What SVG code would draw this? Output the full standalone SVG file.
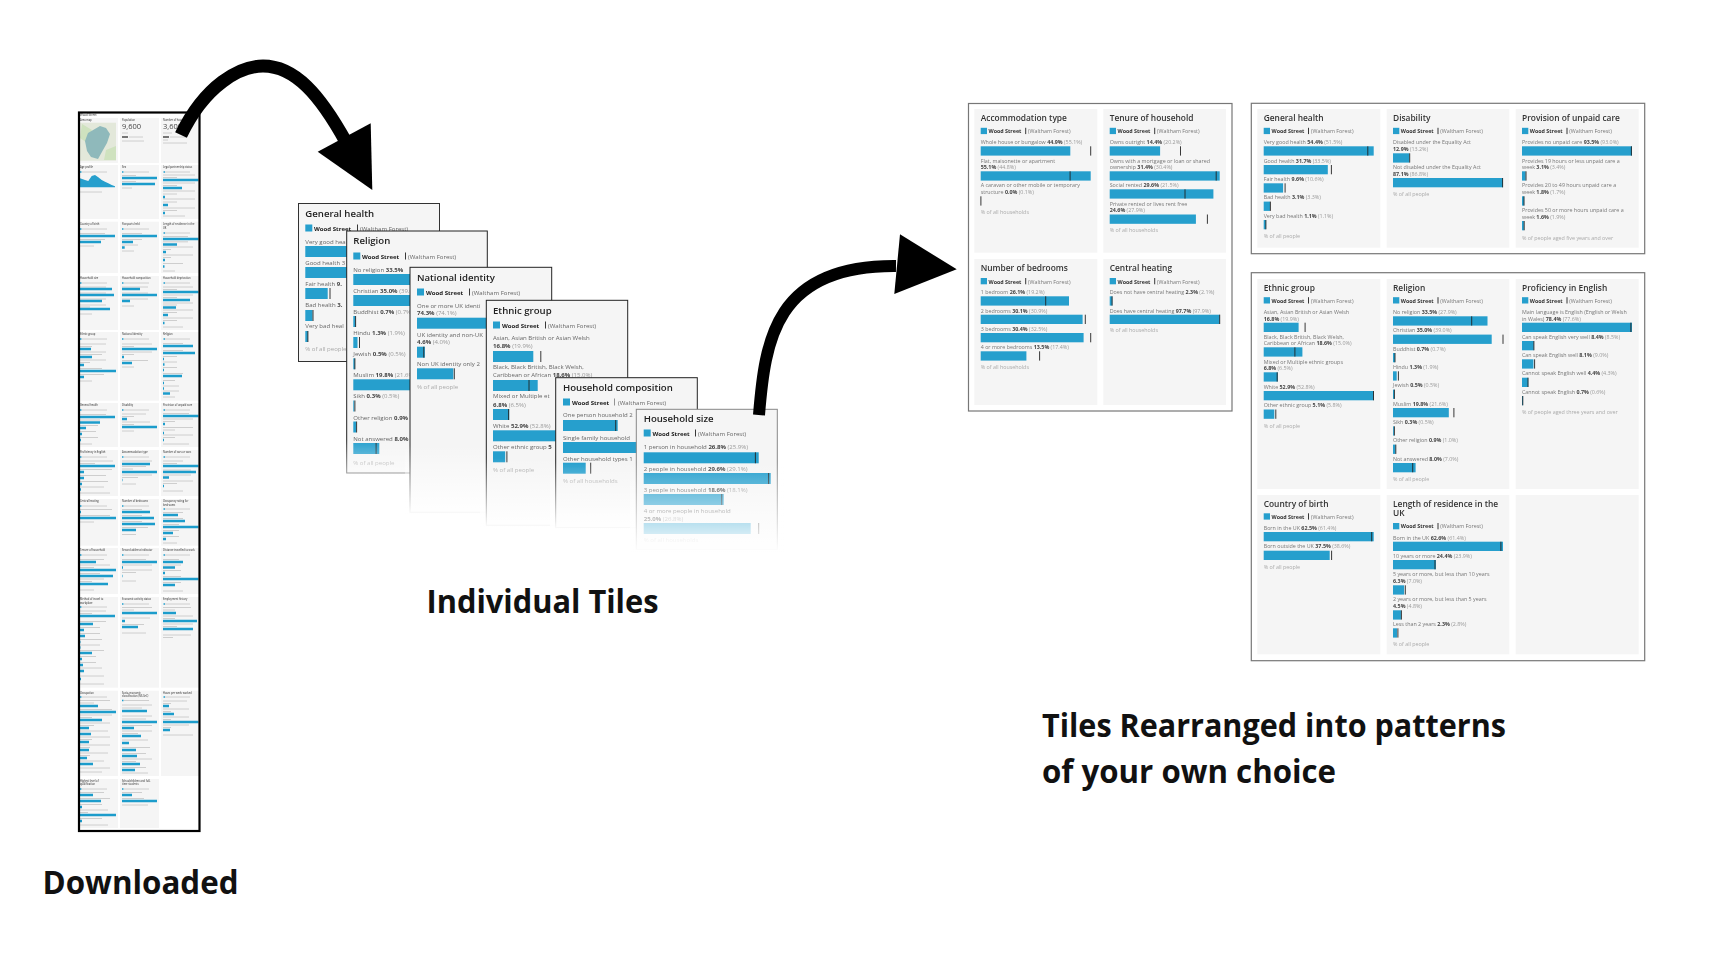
<svg xmlns="http://www.w3.org/2000/svg" width="1715" height="978" viewBox="0 0 1715 978">
<style>
text{font-family:"Open Sans","Noto Sans","Liberation Sans",sans-serif}
.tile{fill:#f5f5f5}
.bar{fill:#259fcd}
.m{stroke:#222;stroke-width:.9;fill:none}
.h{font-size:8.4px;font-weight:600;fill:#333}
.l{font-size:5.35px;fill:#777}
.k{font-size:5.35px;font-weight:700;fill:#333}
.v{font-weight:700;fill:#444}
.p{fill:#999}
.f{font-size:5.35px;fill:#aaa}
.frame{fill:none;stroke:#777;stroke-width:1.2}
.s .h{font-size:9.6px;fill:#222}
.s .l,.s .f{font-size:6.05px}
.s .k{font-size:6.05px;fill:#222}
.s .l{fill:#666}
.edge{fill:#f5f5f5;stroke:#222;stroke-width:1}
.mh{font-size:2.5px;font-weight:600;fill:#555}
.g{stroke:#c4c4c4;stroke-width:.8;fill:none}
.mb{stroke:#1e9ccb;stroke-width:2.6;fill:none}
.big{font-size:32.500px;font-weight:700;fill:#111}
.arrow{fill:none;stroke:#000}
</style>
<defs>
<filter id="soft" x="-5%" y="-5%" width="110%" height="110%"><feGaussianBlur stdDeviation=".38"/></filter>
<filter id="mini" x="-5%" y="-5%" width="110%" height="110%"><feGaussianBlur stdDeviation=".6"/></filter>
<linearGradient id="fade" x1="0" y1="0" x2="0" y2="1"><stop offset="0" stop-color="#fff" stop-opacity="0"/><stop offset="1" stop-color="#fff"/></linearGradient>
<linearGradient id="fade2" x1="0" y1="0" x2="0" y2="1"><stop offset="0" stop-color="#fff" stop-opacity="0"/><stop offset="1" stop-color="#fff" stop-opacity=".6"/></linearGradient>
</defs>
<rect width="1715" height="978" fill="#fff"/>

<g id="downloaded" filter="url(#mini)">
<text class="mh" x="80" y="115.500" style="font-size:2.8px">Wood Street</text>
<g id="d-area"><rect class="tile" x="80" y="118" width="38" height="45"/><text class="mh" x="80" y="121">Area map</text><rect x="80" y="122.700" width="36" height="38" fill="#e3e8da"/><path d="M82 124l10 6-6 12-6-4zM106 150l10-4v14h-12z" fill="#cfe2bf"/><path d="M88 133l12-7 6 2 4 6-3 9-4 7-5 9-7-2-4-6-2-10z" fill="#8fb9bb"/></g>
<g id="d-pop"><rect class="tile" x="120" y="118" width="39" height="45"/><text class="mh" x="122" y="121">Population</text><text x="122" y="129" style="font-size:7.5px" fill="#444">9,600</text><path class="g" d="M122 133h6M129 137h14M122 141h22"/><path d="M122 137h6" stroke="#555" stroke-width="1.6"/></g>
<g id="d-hh"><rect class="tile" x="161" y="118" width="38" height="45"/><text class="mh" x="163" y="121">Number of households</text><text x="163" y="129" style="font-size:7.5px" fill="#444">3,600</text><path class="g" d="M163 133h9M170 137h16M163 140h5M163 143h24"/><path d="M163 137h6" stroke="#555" stroke-width="1.6"/></g>

<g id="d-age"><rect class="tile" x="80" y="165" width="38" height="54"/><text class="mh" x="80" y="168">Age profile</text><path class="g" d="M82 172h25M80 192h22"/><path d="M80 187.300V178.300L85 180 88.300 181 91.700 176 95 175 98.300 177.300 101.700 180 105 181.700 108.300 183.300 111.700 185 115 186.300V187.300z" fill="#259fcd"/></g>
<g id="d-sex"><rect class="tile" x="120" y="165" width="39" height="54"/><text class="mh" x="122" y="168">Sex</text><path class="g" d="M124 172h25M122 175.500h14M122 181.500h14M122 188h10"/><path class="mb" d="M122 178h35M122 184h33"/></g>
<g id="d-legal"><rect class="tile" x="161" y="165" width="38" height="54"/><text class="mh" x="163" y="168">Legal partnership status</text><path class="g" d="M165 172h25M163 175h32M163 177.500h14M163 183h32M163 185.500h14M163 191h32M163 194h14M163 199h32M163 202h14M163 208h32M163 210.500h14M163 216h22"/><path class="mb" d="M163 180h35.500M163 188h19M163 197h2M163 205h5M163 213h2"/></g>

<g id="d-cob"><rect class="tile" x="80" y="221.700" width="38" height="51.300"/><text class="mh" x="80" y="225">Country of birth</text><path class="g" d="M82 229h25M80 233.500h25M80 239.500h25M80 246h14"/><path class="mb" d="M80 236h35M80 242h21"/></g>
<g id="d-pass"><rect class="tile" x="120" y="221.700" width="39" height="51.300"/><text class="mh" x="122" y="225">Passports held</text><path class="g" d="M124 229h25M122 233.500h20M122 239.500h20M122 245h16M122 251h12"/><path class="mb" d="M122 236h35M122 242h11M122 247.500h2.700"/></g>
<g id="d-lor"><rect class="tile" x="161" y="221.700" width="38" height="51.300"/><text class="mh" x="163" y="225">Length of residence in the</text><text class="mh" x="163" y="228.500">UK</text><path class="g" d="M165 233h25M163 236.500h25M163 241.800h25M163 247h30M163 249.500h8M163 255h30M163 257.500h8M163 263.500h20M163 271h12"/><path class="mb" d="M163 239h35.500M163 244.500h14M163 252h3M163 260h2M163 266.500h1.500"/></g>

<g id="d-size"><rect class="tile" x="80" y="276" width="38" height="54"/><text class="mh" x="80" y="279">Household size</text><path class="g" d="M82 283h25M80 287h26M80 293h26M80 299h26M80 305h26M80 307h10M80 314h12"/><path class="mb" d="M80 289h32M80 295h34M80 301h22M80 309h30"/></g>
<g id="d-comp"><rect class="tile" x="120" y="276" width="39" height="54"/><text class="mh" x="122" y="279">Household composition</text><path class="g" d="M124 283h25M122 287h26M122 293h26M122 299h26M122 306h12"/><path class="mb" d="M122 289h18M122 295h35M122 301h8"/></g>
<g id="d-dep"><rect class="tile" x="161" y="276" width="38" height="54"/><text class="mh" x="163" y="279">Household deprivation</text><path class="g" d="M165 283h25M163 287h30M163 289.500h14M163 295h30M163 297.500h14M163 303h30M163 305h14M163 310h30M163 312.500h14M163 318h30M163 320.500h14M163 327h20"/><path class="mb" d="M163 292h35.500M163 300h27M163 307.500h13M163 315h5M163 323h1.500"/></g>

<g id="d-eth"><rect class="tile" x="80" y="332" width="38" height="68.700"/><text class="mh" x="80" y="335">Ethnic group</text><path class="g" d="M82 339h25M80 344h26M80 346.500h12M80 352h26M80 354.500h22M80 360h26M80 362.500h10M80 368.500h22M80 374.500h24M80 381h12"/><path class="mb" d="M80 349h11M80 357h12M80 365h4M80 371h36M80 377h4"/></g>
<g id="d-nat"><rect class="tile" x="120" y="332" width="39" height="68.700"/><text class="mh" x="122" y="335">National identity</text><path class="g" d="M124 339h25M122 344h30M122 346.500h12M122 352h30M122 354.500h12M122 360.500h26M122 367h12"/><path class="mb" d="M122 349h35M122 357h2M122 363h10"/></g>
<g id="d-rel"><rect class="tile" x="161" y="332" width="38" height="68.700"/><text class="mh" x="163" y="335">Religion</text><path class="g" d="M165 339h25M163 343.500h20M163 350.500h20M163 356.500h14M163 362h14M163 367.500h14M163 373.500h20M163 380.500h12M163 386h16M163 391h16M163 397h12"/><path class="mb" d="M163 346h30M163 353h32M163 359h1M163 364.500h1.500M163 370h1M163 376h19M163 383h1M163 388.500h1M163 393.500h7"/></g>

<g id="d-gen"><rect class="tile" x="80" y="403" width="38" height="44"/><text class="mh" x="80" y="406">General health</text><path class="g" d="M82 410h25M80 414.500h26M80 420h20M80 425.500h18M80 431.500h16M80 437.500h18M80 444h12"/><path class="mb" d="M80 417h35M80 422.500h20M80 428h6M80 434h2M80 440h1"/></g>
<g id="d-dis"><rect class="tile" x="120" y="403" width="39" height="44"/><text class="mh" x="122" y="406">Disability</text><path class="g" d="M124 410h25M122 414h24M122 416.500h12M122 422h28M122 424.500h12M122 431h12"/><path class="mb" d="M122 419h5M122 427h35"/></g>
<g id="d-care"><rect class="tile" x="161" y="403" width="38" height="44"/><text class="mh" x="163" y="406">Provision of unpaid care</text><path class="g" d="M165 410h25M163 413.500h26M163 419h30M163 421.500h12M163 427.500h30M163 430h12M163 435h30M163 437.500h12M163 444h26"/><path class="mb" d="M163 416h35.500M163 424h2M163 433h1M163 440h1"/></g>

<g id="d-eng"><rect class="tile" x="80" y="450" width="38" height="46"/><text class="mh" x="80" y="453">Proficiency in English</text><path class="g" d="M82 457h25M80 461h33M80 463.500h15M80 469.500h32M80 475.500h26M80 481.500h28M80 487h24M80 493h30"/><path class="mb" d="M80 466h35M80 472h4M80 478h4M80 484h2M80 489.500h1"/></g>
<g id="d-acc"><rect class="tile" x="120" y="450" width="39" height="46"/><text class="mh" x="122" y="453">Accommodation type</text><path class="g" d="M124 457h25M122 461h30M122 466.500h24M122 469h11M122 475h30M122 477.500h16M122 484h14"/><path class="mb" d="M122 464h28M122 472h35M122 480h.5"/></g>
<g id="d-cars"><rect class="tile" x="161" y="450" width="38" height="46"/><text class="mh" x="163" y="453">Number of cars or vans</text><path class="g" d="M165 457h25M163 461h20M163 463.500h14M163 470h28M163 475h28M163 481h30M163 483.500h14M163 491h20"/><path class="mb" d="M163 466h35.500M163 472h33M163 477.500h6M163 486h1"/></g>

<g id="d-heat"><rect class="tile" x="80" y="499" width="38" height="46.700"/><text class="mh" x="80" y="502">Central heating</text><path class="g" d="M82 506h25M80 509.500h32M80 515.500h30M80 522h14"/><path class="mb" d="M80 512h1M80 518h36"/></g>
<g id="d-bed"><rect class="tile" x="120" y="499" width="39" height="46.700"/><text class="mh" x="122" y="502">Number of bedrooms</text><path class="g" d="M124 506h25M122 509.500h20M122 515.500h20M122 521.500h20M122 527.500h26M122 534.500h14"/><path class="mb" d="M122 512h28M122 518h32M122 524h33M122 530h14"/></g>
<g id="d-occ"><rect class="tile" x="161" y="499" width="38" height="46.700"/><text class="mh" x="163" y="502">Occupancy rating for</text><text class="mh" x="163" y="505.500">bedrooms</text><path class="g" d="M165 509h25M163 512.500h20M163 518.500h20M163 524.500h16M163 530.500h16M163 536.500h16M163 543h14"/><path class="mb" d="M163 515h15M163 521h22M163 527h35.500M163 533h10M163 539h3"/></g>

<g id="d-ten"><rect class="tile" x="80" y="548" width="38" height="46"/><text class="mh" x="80" y="551">Tenure of household</text><path class="g" d="M82 555h25M80 559.500h24M80 565h30M80 567.500h14M80 573.500h20M80 579h24M80 581.500h12M80 590h14"/><path class="mb" d="M80 562h16M80 570h36M80 576h33M80 584h28"/></g>
<g id="d-sec"><rect class="tile" x="120" y="548" width="39" height="46"/><text class="mh" x="122" y="551">Second address indicator</text><path class="g" d="M124 555h25M122 559.500h24M122 565h30M122 570h30M122 572.500h14M122 581h14"/><path class="mb" d="M122 562h35M122 567.500h1M122 576h.5"/></g>
<g id="d-dist"><rect class="tile" x="161" y="548" width="38" height="46"/><text class="mh" x="163" y="551">Distance travelled to work</text><path class="g" d="M165 555h25M163 559.500h16M163 565h18M163 570.500h18M163 576.500h18M163 582.500h18M163 591h20"/><path class="mb" d="M163 562h20M163 567.500h12M163 573h2M163 579h35.500M163 585h12"/></g>

<g id="d-meth"><rect class="tile" x="80" y="597" width="38" height="90.700"/><text class="mh" x="80" y="600">Method of travel to</text><text class="mh" x="80" y="603.500">workplace</text><path class="g" d="M82 607h25M80 611h26M80 613.500h12M80 621.500h26M80 627.500h20M80 633.500h20M80 639.500h22M80 645h20M80 650.500h24M80 656.500h16M80 662.500h16M80 668h22M80 676h24M80 684h24"/><path class="mb" d="M80 616h35M80 624h13M80 630h4M80 636h5M80 642h.5M80 647.500h.5M80 653h12M80 659h2M80 665h3M80 671h4M80 679h1"/></g>
<g id="d-econ"><rect class="tile" x="120" y="597" width="39" height="90.700"/><text class="mh" x="122" y="600">Economic activity status</text><path class="g" d="M124 604h25M122 607.500h30M122 610h12M122 618h28M122 624.500h22M122 633h24"/><path class="mb" d="M122 613h35M122 621h3M122 627h16"/></g>
<g id="d-emp"><rect class="tile" x="161" y="597" width="38" height="90.700"/><text class="mh" x="163" y="600">Employment history</text><path class="g" d="M165 604h25M163 607.500h28M163 610h12M163 616h30M163 618.500h12M163 624h30M163 626.500h14M163 635h28M163 637.500h10"/><path class="mb" d="M163 613h13M163 621h34M163 629h30"/></g>

<g id="d-occu"><rect class="tile" x="80" y="690.700" width="38" height="85.300"/><text class="mh" x="80" y="693.500">Occupation</text><path class="g" d="M82 697h25M80 700.500h30M80 703h14M80 709.500h32M80 715h32M80 717.500h12M80 723h30M80 725.500h14M80 731h28M80 737h30M80 739.500h12M80 745h30M80 747.500h10M80 753h28M80 755.500h10M80 761h24M80 768h30M80 772h22"/><path class="mb" d="M80 706h18M80 712h36M80 720h22M80 728h9M80 734h11M80 742h9M80 750h9M80 758h7M80 764h13"/></g>
<g id="d-nssec"><rect class="tile" x="120" y="690.700" width="39" height="85.300"/><text class="mh" x="122" y="693.500">Socio-economic</text><text class="mh" x="122" y="697">classification (NS-SeC)</text><path class="g" d="M124 700.500h25M122 705h30M122 708h20M122 716h30M122 719h24M122 725.500h30M122 731h30M122 733.500h16M122 740h26M122 747.500h28M122 753.500h24M122 759h30M122 761.500h14M122 767.500h24M122 773h26"/><path class="mb" d="M122 711h25M122 722h35M122 728h12M122 736h19M122 743h7M122 750h14M122 756h15M122 764h18M122 770h13"/></g>
<g id="d-hours"><rect class="tile" x="161" y="690.700" width="38" height="85.300"/><text class="mh" x="163" y="693.500">Hours per week worked</text><path class="g" d="M165 697h25M163 701h24M163 703.500h8M163 709h26M163 711.500h8M163 717h26M163 719.500h8M163 725h26M163 727.500h8M163 735h30"/><path class="mb" d="M163 706h6M163 714h11M163 722h35.500M163 730h7"/></g>

<g id="d-qual"><rect class="tile" x="80" y="779" width="38" height="49"/><text class="mh" x="80" y="782">Highest level of</text><text class="mh" x="80" y="785.300">qualification</text><path class="g" d="M82 789h25M80 792.500h24M80 798.500h30M80 804.500h22M80 810h28M80 812.500h8M80 818.500h22M80 825h28"/><path class="mb" d="M80 795h13M80 801h21M80 807h2M80 815h36M80 821h2"/></g>
<g id="d-sch"><rect class="tile" x="120" y="779" width="39" height="49"/><text class="mh" x="122" y="782">Schoolchildren and full-</text><text class="mh" x="122" y="785.300">time students</text><path class="g" d="M124 789h25M122 792.500h20M122 798.500h22M122 805h26"/><path class="mb" d="M122 795h10M122 801h35"/></g>
<path id="d-swatches" stroke="#1e9ccb" stroke-width="1.6" fill="none" d="M122 172h1.500M163.500 172h1.500M80 229h1.500M122 229h1.500M163.500 233h1.500M80 283h1.500M122 283h1.500M163.500 283h1.500M80 339h1.500M122 339h1.500M163.500 339h1.500M80 410h1.500M122 410h1.500M163.500 410h1.500M80 457h1.500M122 457h1.500M163.500 457h1.500M80 506h1.500M122 506h1.500M163.500 509h1.500M80 555h1.500M122 555h1.500M163.500 555h1.500M80 607h1.500M122 604h1.500M163.500 604h1.500M80 697h1.500M122 700.500h1.500M163.500 697h1.500M80 789h1.500M122 789h1.500M80 172h1.500"/>
</g>
<rect id="d-frame" x="79" y="112.500" width="120.500" height="718.500" fill="none" stroke="#000" stroke-width="2.200"/>

<g class="s" filter="url(#soft)">
<g id="tile-general-health">
<rect class="edge" x="298.500" y="203.500" width="141" height="158" style="stroke:#333"/>
<text class="h" x="305.300" y="217">General health</text>
<rect class="bar" x="305.300" y="224.500" width="7" height="7"/><text class="k" x="314" y="231">Wood Street</text><path class="m" d="M357.500 224.500v6.500"/><text class="l" x="360" y="231">(Waltham Forest)</text>
<text class="l" x="305.300" y="244">Very good hea</text><rect class="bar" x="305.300" y="246" width="127" height="11"/>
<text class="l" x="305.300" y="265">Good health 3</text><rect class="bar" x="305.300" y="267" width="74" height="11"/>
<text class="l" x="305.300" y="286">Fair health <tspan class="v">9.</tspan></text><rect class="bar" x="305.300" y="288" width="22.400" height="11"/>
<text class="l" x="305.300" y="307">Bad health <tspan class="v">3.</tspan></text><rect class="bar" x="305.300" y="310" width="7.200" height="11"/>
<text class="l" x="305.300" y="328">Very bad heal</text><rect class="bar" x="305.300" y="331" width="2.600" height="11"/>
<path class="m" d="M425.300 246v11M383.300 267v11M330 288v11M313 310v11M307.900 331v11"/>
<text class="f" x="305.300" y="351">% of all people</text>
</g>
<g id="tile-religion">
<rect class="edge" x="346.700" y="231" width="140.600" height="242"/>
<text class="h" x="353.300" y="244.300">Religion</text>
<rect class="bar" x="353.300" y="252.500" width="7" height="7"/><text class="k" x="362" y="259">Wood Street</text><path class="m" d="M405.500 252.500v7"/><text class="l" x="408" y="259">(Waltham Forest)</text>
<text class="l" x="353.300" y="271.700">No religion <tspan class="v">33.5%</tspan></text><rect class="bar" x="353.300" y="274" width="109" height="11"/>
<text class="l" x="353.300" y="292.700">Christian <tspan class="v">35.0%</tspan> <tspan class="p">(39.0%)</tspan></text><rect class="bar" x="353.300" y="295" width="114" height="11"/>
<text class="l" x="353.300" y="313.700">Buddhist <tspan class="v">0.7%</tspan> <tspan class="p">(0.7%)</tspan></text><rect class="bar" x="353.300" y="316" width="2.300" height="11"/>
<text class="l" x="353.300" y="335">Hindu <tspan class="v">1.3%</tspan> <tspan class="p">(1.9%)</tspan></text><rect class="bar" x="353.300" y="337" width="4.200" height="11"/>
<text class="l" x="353.300" y="356">Jewish <tspan class="v">0.5%</tspan> <tspan class="p">(0.5%)</tspan></text><rect class="bar" x="353.300" y="358.300" width="1.600" height="11"/>
<text class="l" x="353.300" y="377">Muslim <tspan class="v">19.8%</tspan> <tspan class="p">(21.6%)</tspan></text><rect class="bar" x="353.300" y="379.300" width="64.500" height="11"/>
<text class="l" x="353.300" y="398">Sikh <tspan class="v">0.3%</tspan> <tspan class="p">(0.5%)</tspan></text><rect class="bar" x="353.300" y="400.500" width="1" height="11"/>
<text class="l" x="353.300" y="419.500">Other religion <tspan class="v">0.9%</tspan></text><rect class="bar" x="353.300" y="421.500" width="2.900" height="11"/>
<text class="l" x="353.300" y="440.500">Not answered <tspan class="v">8.0%</tspan></text><rect class="bar" x="353.300" y="443" width="26" height="11"/>
<path class="m" d="M444.200 274v11M480.300 295v11M355.600 316v11M359.500 337v11M354.900 358.300v11M423.600 379.300v11M354.900 400.500v11M356.600 421.500v11M376.100 443v11"/>
<text class="f" x="353.300" y="465">% of all people</text>
<rect x="340" y="440" width="150" height="36" fill="url(#fade2)"/>
</g>
<g id="tile-national-identity">
<rect class="edge" x="410" y="267.300" width="141.700" height="245"/>
<text class="h" x="417" y="280.700">National identity</text>
<rect class="bar" x="417" y="288.500" width="7" height="7"/><text class="k" x="426" y="295">Wood Street</text><path class="m" d="M469.500 288.500v7"/><text class="l" x="472" y="295">(Waltham Forest)</text>
<text class="l" x="417" y="307.700">One or more UK identi</text><text class="l" x="417" y="315.300"><tspan class="v">74.3%</tspan> <tspan class="p">(74.1%)</tspan></text><rect class="bar" x="417" y="317.700" width="127" height="11"/>
<text class="l" x="417" y="336.700">UK identity and non-UK</text><text class="l" x="417" y="344.300"><tspan class="v">4.6%</tspan> <tspan class="p">(4.0%)</tspan></text><rect class="bar" x="417" y="346.700" width="7.900" height="11"/>
<text class="l" x="417" y="365.700">Non UK identity only 2</text><rect class="bar" x="417" y="368.300" width="36.300" height="11"/>
<path class="m" d="M543.600 317.700v11M423.800 346.700v11M454.300 368.300v11"/>
<text class="f" x="417" y="388.700">% of all people</text>
<rect x="405" y="445" width="85" height="70" fill="url(#fade)"/>
</g>
<g id="tile-ethnic-group">
<rect class="edge" x="486.300" y="300.300" width="141.400" height="225"/>
<text class="h" x="493" y="314">Ethnic group</text>
<rect class="bar" x="493" y="321.500" width="7" height="7"/><text class="k" x="502" y="328">Wood Street</text><path class="m" d="M545.500 321.500v7"/><text class="l" x="548" y="328">(Waltham Forest)</text>
<text class="l" x="493" y="340.300">Asian, Asian British or Asian Welsh</text><text class="l" x="493" y="348.300"><tspan class="v">16.8%</tspan> <tspan class="p">(19.9%)</tspan></text><rect class="bar" x="493" y="351" width="40.300" height="11"/>
<text class="l" x="493" y="369.300">Black, Black British, Black Welsh,</text><text class="l" x="493" y="377">Caribbean or African <tspan class="v">18.6%</tspan> <tspan class="p">(15.0%)</tspan></text><rect class="bar" x="493" y="380" width="44.700" height="11"/>
<text class="l" x="493" y="398.300">Mixed or Multiple et</text><text class="l" x="493" y="406.700"><tspan class="v">6.8%</tspan> <tspan class="p">(6.5%)</tspan></text><rect class="bar" x="493" y="409" width="16.300" height="11"/>
<text class="l" x="493" y="427.700">White <tspan class="v">52.9%</tspan> <tspan class="p">(52.8%)</tspan></text><rect class="bar" x="493" y="430.300" width="127" height="11"/>
<text class="l" x="493" y="449">Other ethnic group <tspan class="v">5</tspan></text><rect class="bar" x="493" y="451.300" width="12.200" height="11"/>
<path class="m" d="M540.800 351v11M529 380v11M508.600 409v11M619.800 430.300v11M506.900 451.300v11"/>
<text class="f" x="493" y="472">% of all people</text>
<rect x="480" y="458" width="155" height="70" fill="url(#fade)"/>
</g>
<g id="tile-household-composition">
<rect class="edge" x="555.700" y="377.700" width="141.600" height="150"/>
<text class="h" x="563" y="390.700">Household composition</text>
<rect class="bar" x="563" y="398.500" width="7" height="7"/><text class="k" x="572" y="405">Wood Street</text><path class="m" d="M614.500 398.500v7" style="stroke:#888"/><text class="l" x="618" y="405">(Waltham Forest)</text>
<text class="l" x="563" y="417.300">One person household 2</text><rect class="bar" x="563" y="420" width="54.700" height="11"/>
<text class="l" x="563" y="439.700">Single family household</text><rect class="bar" x="563" y="442" width="127" height="11"/>
<text class="l" x="563" y="460.700">Other household types 1</text><rect class="bar" x="563" y="462.700" width="22.700" height="11"/>
<path class="m" d="M615.700 420v11M590.700 462.700v11"/>
<text class="f" x="563" y="483.300">% of all households</text>
<rect x="550" y="462" width="90" height="68" fill="url(#fade)"/>
</g>
<g id="tile-household-size">
<rect class="edge" x="636.300" y="409.300" width="141" height="140" style="stroke:#888"/>
<text class="h" x="643.700" y="422">Household size</text>
<rect class="bar" x="643.700" y="429.500" width="7" height="7"/><text class="k" x="652.500" y="436">Wood Street</text><path class="m" d="M695.500 429.500v7"/><text class="l" x="698" y="436">(Waltham Forest)</text>
<text class="l" x="643.700" y="449.300">1 person in household <tspan class="v">26.8%</tspan> <tspan class="p">(25.9%)</tspan></text><rect class="bar" x="643.700" y="452.300" width="115" height="11"/>
<text class="l" x="643.700" y="471">2 people in household <tspan class="v">29.6%</tspan> <tspan class="p">(29.1%)</tspan></text><rect class="bar" x="643.700" y="473" width="127" height="11"/>
<text class="l" x="643.700" y="492">3 people in household <tspan class="v">18.6%</tspan> <tspan class="p">(18.1%)</tspan></text><rect class="bar" x="643.700" y="494" width="80" height="11"/>
<text class="l" x="643.700" y="513.300">4 or more people in household</text><text class="l" x="643.700" y="520.700"><tspan class="v">25.0%</tspan> <tspan class="p">(26.8%)</tspan></text><rect class="bar" x="643.700" y="523" width="107" height="11"/>
<path class="m" d="M755.400 452.300v11M768.600 473v11M721.700 494v11M758.700 523v11"/>
<text class="f" x="643.700" y="541.700">% of all households</text>
<rect x="630" y="462" width="155" height="90" fill="url(#fade)"/>
</g>
</g>

<g filter="url(#soft)">
<rect class="frame" x="968.500" y="103.500" width="263.500" height="307.500"/>
<g id="a-accommodation">
<rect class="tile" x="974.300" y="109" width="123" height="143.700"/>
<text class="h" x="980.700" y="120.700">Accommodation type</text>
<rect class="bar" x="980.700" y="127.800" width="6.300" height="6.300"/><text class="k" x="988.500" y="133.200">Wood Street</text><path class="m" d="M1025.700 127.800v6.300"/><text class="l" x="1028" y="133.200">(Waltham Forest)</text>
<text class="l" x="980.700" y="144.300">Whole house or bungalow <tspan class="v">44.9%</tspan> <tspan class="p">(55.1%)</tspan></text><rect class="bar" x="980.700" y="146.300" width="89.600" height="9.300"/>
<text class="l" x="980.700" y="162.700">Flat, maisonette or apartment</text><text class="l" x="980.700" y="169.300"><tspan class="v">55.1%</tspan> <tspan class="p">(44.8%)</tspan></text><rect class="bar" x="980.700" y="171.300" width="110" height="9.300"/>
<text class="l" x="980.700" y="187.300">A caravan or other mobile or temporary</text><text class="l" x="980.700" y="194">structure <tspan class="v">0.0%</tspan> <tspan class="p">(0.1%)</tspan></text>
<path class="m" d="M1090.700 146.300v9.300M1070.100 171.300v9.300M980.900 196.300v9.300"/>
<text class="f" x="980.700" y="214.300">% of all households</text>
</g>
<g id="a-tenure">
<rect class="tile" x="1103.300" y="109" width="122.700" height="143.700"/>
<text class="h" x="1109.700" y="120.700">Tenure of household</text>
<rect class="bar" x="1109.700" y="127.800" width="6.300" height="6.300"/><text class="k" x="1117.500" y="133.200">Wood Street</text><path class="m" d="M1154.700 127.800v6.300"/><text class="l" x="1157" y="133.200">(Waltham Forest)</text>
<text class="l" x="1109.700" y="144.300">Owns outright <tspan class="v">14.4%</tspan> <tspan class="p">(20.2%)</tspan></text><rect class="bar" x="1109.700" y="146.300" width="50.400" height="9.300"/>
<text class="l" x="1109.700" y="162.700">Owns with a mortgage or loan or shared</text><text class="l" x="1109.700" y="169.300">ownership <tspan class="v">31.4%</tspan> <tspan class="p">(30.4%)</tspan></text><rect class="bar" x="1109.700" y="171.300" width="110" height="9.300"/>
<text class="l" x="1109.700" y="187.300">Social rented <tspan class="v">29.6%</tspan> <tspan class="p">(21.5%)</tspan></text><rect class="bar" x="1109.700" y="189.300" width="103.700" height="9.300"/>
<text class="l" x="1109.700" y="205.700">Private rented or lives rent free</text><text class="l" x="1109.700" y="212.300"><tspan class="v">24.6%</tspan> <tspan class="p">(27.9%)</tspan></text><rect class="bar" x="1109.700" y="214.500" width="86.200" height="9.300"/>
<path class="m" d="M1180.500 146.300v9.300M1216.200 171.300v9.300M1185 189.300v9.300M1207.400 214.500v9.300"/>
<text class="f" x="1109.700" y="232">% of all households</text>
</g>
<g id="a-bedrooms">
<rect class="tile" x="974.300" y="259" width="123" height="146"/>
<text class="h" x="980.700" y="270.700">Number of bedrooms</text>
<rect class="bar" x="980.700" y="278" width="6.300" height="6.300"/><text class="k" x="988.500" y="283.500">Wood Street</text><path class="m" d="M1025.700 278v6.300"/><text class="l" x="1028" y="283.500">(Waltham Forest)</text>
<text class="l" x="980.700" y="294.300">1 bedroom <tspan class="v">26.1%</tspan> <tspan class="p">(19.2%)</tspan></text><rect class="bar" x="980.700" y="296.300" width="88.300" height="9.300"/>
<text class="l" x="980.700" y="312.700">2 bedrooms <tspan class="v">30.1%</tspan> <tspan class="p">(30.9%)</tspan></text><rect class="bar" x="980.700" y="314.700" width="101.900" height="9.300"/>
<text class="l" x="980.700" y="331">3 bedrooms <tspan class="v">30.4%</tspan> <tspan class="p">(32.5%)</tspan></text><rect class="bar" x="980.700" y="333" width="102.900" height="9.300"/>
<text class="l" x="980.700" y="349.300">4 or more bedrooms <tspan class="v">13.5%</tspan> <tspan class="p">(17.4%)</tspan></text><rect class="bar" x="980.700" y="351.300" width="45.700" height="9.300"/>
<path class="m" d="M1045.700 296.300v9.300M1085.300 314.700v9.300M1090.700 333v9.300M1039.600 351.300v9.300"/>
<text class="f" x="980.700" y="369.300">% of all households</text>
</g>
<g id="a-heating">
<rect class="tile" x="1103.300" y="259" width="122.700" height="146"/>
<text class="h" x="1109.700" y="270.700">Central heating</text>
<rect class="bar" x="1109.700" y="278" width="6.300" height="6.300"/><text class="k" x="1117.500" y="283.500">Wood Street</text><path class="m" d="M1154.700 278v6.300"/><text class="l" x="1157" y="283.500">(Waltham Forest)</text>
<text class="l" x="1109.700" y="294.300">Does not have central heating <tspan class="v">2.3%</tspan> <tspan class="p">(2.1%)</tspan></text><rect class="bar" x="1109.700" y="296.300" width="2.600" height="9.300"/>
<text class="l" x="1109.700" y="312.700">Does have central heating <tspan class="v">97.7%</tspan> <tspan class="p">(97.9%)</tspan></text><rect class="bar" x="1109.700" y="314.700" width="110" height="9.300"/>
<path class="m" d="M1112.100 296.300v9.300M1219.700 314.700v9.300"/>
<text class="f" x="1109.700" y="332.300">% of all households</text>
</g>

<rect class="frame" x="1251.300" y="103.300" width="393.400" height="150.400"/>
<g id="b-general-health">
<rect class="tile" x="1257.300" y="109" width="123" height="138.700"/>
<text class="h" x="1263.700" y="120.700">General health</text>
<rect class="bar" x="1263.700" y="127.800" width="6.300" height="6.300"/><text class="k" x="1271.500" y="133.200">Wood Street</text><path class="m" d="M1308.500 127.800v6.300"/><text class="l" x="1311" y="133.200">(Waltham Forest)</text>
<text class="l" x="1263.700" y="144.300">Very good health <tspan class="v">54.4%</tspan> <tspan class="p">(51.5%)</tspan></text><rect class="bar" x="1263.700" y="146.300" width="110" height="9.300"/>
<text class="l" x="1263.700" y="162.700">Good health <tspan class="v">31.7%</tspan> <tspan class="p">(33.5%)</tspan></text><rect class="bar" x="1263.700" y="165" width="64.100" height="9.300"/>
<text class="l" x="1263.700" y="181">Fair health <tspan class="v">9.6%</tspan> <tspan class="p">(10.6%)</tspan></text><rect class="bar" x="1263.700" y="183.300" width="19.400" height="9.300"/>
<text class="l" x="1263.700" y="199.300">Bad health <tspan class="v">3.1%</tspan> <tspan class="p">(3.3%)</tspan></text><rect class="bar" x="1263.700" y="201.600" width="6.300" height="9.300"/>
<text class="l" x="1263.700" y="217.700">Very bad health <tspan class="v">1.1%</tspan> <tspan class="p">(1.1%)</tspan></text><rect class="bar" x="1263.700" y="220" width="2.200" height="9.300"/>
<path class="m" d="M1367.800 146.300v9.300M1331.400 165v9.300M1285.100 183.300v9.300M1270.400 201.600v9.300M1265.900 220v9.300"/>
<text class="f" x="1263.700" y="237.700">% of all people</text>
</g>
<g id="b-disability">
<rect class="tile" x="1386.700" y="109" width="122.600" height="138.700"/>
<text class="h" x="1393" y="120.700">Disability</text>
<rect class="bar" x="1393" y="127.800" width="6.300" height="6.300"/><text class="k" x="1400.800" y="133.200">Wood Street</text><path class="m" d="M1438 127.800v6.300"/><text class="l" x="1440.300" y="133.200">(Waltham Forest)</text>
<text class="l" x="1393" y="144.300">Disabled under the Equality Act</text><text class="l" x="1393" y="151"><tspan class="v">12.9%</tspan> <tspan class="p">(13.2%)</tspan></text><rect class="bar" x="1393" y="153.300" width="16.300" height="9.300"/>
<text class="l" x="1393" y="169.300">Not disabled under the Equality Act</text><text class="l" x="1393" y="176"><tspan class="v">87.1%</tspan> <tspan class="p">(86.8%)</tspan></text><rect class="bar" x="1393" y="178" width="110" height="9.300"/>
<path class="m" d="M1409.700 153.300v9.300M1502.600 178v9.300"/>
<text class="f" x="1393" y="196">% of all people</text>
</g>
<g id="b-unpaid-care">
<rect class="tile" x="1515.700" y="109" width="123" height="138.700"/>
<text class="h" x="1522" y="120.700">Provision of unpaid care</text>
<rect class="bar" x="1522" y="127.800" width="6.300" height="6.300"/><text class="k" x="1529.800" y="133.200">Wood Street</text><path class="m" d="M1567 127.800v6.300"/><text class="l" x="1569.300" y="133.200">(Waltham Forest)</text>
<text class="l" x="1522" y="144.300">Provides no unpaid care <tspan class="v">93.5%</tspan> <tspan class="p">(93.0%)</tspan></text><rect class="bar" x="1522" y="146.300" width="110" height="9.300"/>
<text class="l" x="1522" y="162.700">Provides 19 hours or less unpaid care a</text><text class="l" x="1522" y="169.300">week <tspan class="v">3.1%</tspan> <tspan class="p">(3.4%)</tspan></text><rect class="bar" x="1522" y="171.300" width="3.600" height="9.300"/>
<text class="l" x="1522" y="187.300">Provides 20 to 49 hours unpaid care a</text><text class="l" x="1522" y="194">week <tspan class="v">1.8%</tspan> <tspan class="p">(1.7%)</tspan></text><rect class="bar" x="1522" y="196.300" width="2.100" height="9.300"/>
<text class="l" x="1522" y="212">Provides 50 or more hours unpaid care a</text><text class="l" x="1522" y="218.700">week <tspan class="v">1.6%</tspan> <tspan class="p">(1.9%)</tspan></text><rect class="bar" x="1522" y="221" width="1.900" height="9.300"/>
<path class="m" d="M1631.400 146.300v9.300M1526 171.300v9.300M1524 196.300v9.300M1524.200 221v9.300"/>
<text class="f" x="1522" y="240">% of people aged five years and over</text>
</g>

<rect class="frame" x="1251.300" y="272.700" width="393.400" height="388"/>
<g id="c-ethnic-group">
<rect class="tile" x="1257.300" y="279" width="123" height="210"/>
<text class="h" x="1263.700" y="290.700">Ethnic group</text>
<rect class="bar" x="1263.700" y="297.200" width="6.300" height="6.300"/><text class="k" x="1271.500" y="302.700">Wood Street</text><path class="m" d="M1308.500 297.200v6.300"/><text class="l" x="1311" y="302.700">(Waltham Forest)</text>
<text class="l" x="1263.700" y="314">Asian, Asian British or Asian Welsh</text><text class="l" x="1263.700" y="320.700"><tspan class="v">16.8%</tspan> <tspan class="p">(19.9%)</tspan></text><rect class="bar" x="1263.700" y="322.700" width="34.900" height="9.300"/>
<text class="l" x="1263.700" y="338.700">Black, Black British, Black Welsh,</text><text class="l" x="1263.700" y="345.300">Caribbean or African <tspan class="v">18.6%</tspan> <tspan class="p">(15.0%)</tspan></text><rect class="bar" x="1263.700" y="347.300" width="38.700" height="9.300"/>
<text class="l" x="1263.700" y="363.500">Mixed or Multiple ethnic groups</text><text class="l" x="1263.700" y="370"><tspan class="v">6.8%</tspan> <tspan class="p">(6.5%)</tspan></text><rect class="bar" x="1263.700" y="372.300" width="14.100" height="9.300"/>
<text class="l" x="1263.700" y="388.500">White <tspan class="v">52.9%</tspan> <tspan class="p">(52.8%)</tspan></text><rect class="bar" x="1263.700" y="391" width="110" height="9.300"/>
<text class="l" x="1263.700" y="407">Other ethnic group <tspan class="v">5.1%</tspan> <tspan class="p">(5.8%)</tspan></text><rect class="bar" x="1263.700" y="409.500" width="10.600" height="9.300"/>
<path class="m" d="M1305.100 322.700v9.300M1294.900 347.300v9.300M1277.200 372.300v9.300M1373.500 391v9.300M1275.800 409.500v9.300"/>
<text class="f" x="1263.700" y="427.700">% of all people</text>
</g>
<g id="c-religion">
<rect class="tile" x="1386.700" y="279" width="122.600" height="210"/>
<text class="h" x="1393" y="290.700">Religion</text>
<rect class="bar" x="1393" y="297.200" width="6.300" height="6.300"/><text class="k" x="1400.800" y="302.700">Wood Street</text><path class="m" d="M1438 297.200v6.300"/><text class="l" x="1440.300" y="302.700">(Waltham Forest)</text>
<text class="l" x="1393" y="314">No religion <tspan class="v">33.5%</tspan> <tspan class="p">(27.9%)</tspan></text><rect class="bar" x="1393" y="316.300" width="94.500" height="9.300"/>
<text class="l" x="1393" y="332.300">Christian <tspan class="v">35.0%</tspan> <tspan class="p">(39.0%)</tspan></text><rect class="bar" x="1393" y="334.600" width="98.700" height="9.300"/>
<text class="l" x="1393" y="350.700">Buddhist <tspan class="v">0.7%</tspan> <tspan class="p">(0.7%)</tspan></text><rect class="bar" x="1393" y="353" width="2" height="9.300"/>
<text class="l" x="1393" y="369">Hindu <tspan class="v">1.3%</tspan> <tspan class="p">(1.9%)</tspan></text><rect class="bar" x="1393" y="371.300" width="3.700" height="9.300"/>
<text class="l" x="1393" y="387.300">Jewish <tspan class="v">0.5%</tspan> <tspan class="p">(0.5%)</tspan></text><rect class="bar" x="1393" y="389.600" width="1.400" height="9.300"/>
<text class="l" x="1393" y="405.700">Muslim <tspan class="v">19.8%</tspan> <tspan class="p">(21.6%)</tspan></text><rect class="bar" x="1393" y="408" width="55.800" height="9.300"/>
<text class="l" x="1393" y="424">Sikh <tspan class="v">0.3%</tspan> <tspan class="p">(0.5%)</tspan></text><rect class="bar" x="1393" y="426.300" width=".9" height="9.300"/>
<text class="l" x="1393" y="442.300">Other religion <tspan class="v">0.9%</tspan> <tspan class="p">(1.0%)</tspan></text><rect class="bar" x="1393" y="444.600" width="2.500" height="9.300"/>
<text class="l" x="1393" y="460.700">Not answered <tspan class="v">8.0%</tspan> <tspan class="p">(7.0%)</tspan></text><rect class="bar" x="1393" y="463" width="22.600" height="9.300"/>
<path class="m" d="M1471.700 316.300v9.300M1503 334.600v9.300M1395 353v9.300M1398.400 371.300v9.300M1394.400 389.600v9.300M1453.900 408v9.300M1394.400 426.300v9.300M1395.800 444.600v9.300M1412.700 463v9.300"/>
<text class="f" x="1393" y="480.700">% of all people</text>
</g>
<g id="c-english">
<rect class="tile" x="1515.700" y="279" width="123" height="210"/>
<text class="h" x="1522" y="290.700">Proficiency in English</text>
<rect class="bar" x="1522" y="297.200" width="6.300" height="6.300"/><text class="k" x="1529.800" y="302.700">Wood Street</text><path class="m" d="M1567 297.200v6.300"/><text class="l" x="1569.300" y="302.700">(Waltham Forest)</text>
<text class="l" x="1522" y="314">Main language is English (English or Welsh</text><text class="l" x="1522" y="320.700">in Wales) <tspan class="v">78.4%</tspan> <tspan class="p">(77.6%)</tspan></text><rect class="bar" x="1522" y="322.700" width="110" height="9.300"/>
<text class="l" x="1522" y="338.700">Can speak English very well <tspan class="v">8.4%</tspan> <tspan class="p">(8.5%)</tspan></text><rect class="bar" x="1522" y="341" width="11.800" height="9.300"/>
<text class="l" x="1522" y="357">Can speak English well <tspan class="v">8.1%</tspan> <tspan class="p">(9.0%)</tspan></text><rect class="bar" x="1522" y="359.300" width="11.400" height="9.300"/>
<text class="l" x="1522" y="375.300">Cannot speak English well <tspan class="v">4.4%</tspan> <tspan class="p">(4.3%)</tspan></text><rect class="bar" x="1522" y="377.700" width="6.200" height="9.300"/>
<text class="l" x="1522" y="393.700">Cannot speak English <tspan class="v">0.7%</tspan> <tspan class="p">(0.6%)</tspan></text><rect class="bar" x="1522" y="396" width="1" height="9.300"/>
<path class="m" d="M1630.900 322.700v9.300M1533.900 341v9.300M1534.600 359.300v9.300M1528 377.700v9.300M1522.800 396v9.300"/>
<text class="f" x="1522" y="413.700">% of people aged three years and over</text>
</g>
<g id="c-country-of-birth">
<rect class="tile" x="1257.300" y="495" width="123" height="159.300"/>
<text class="h" x="1263.700" y="506.700">Country of birth</text>
<rect class="bar" x="1263.700" y="513.300" width="6.300" height="6.300"/><text class="k" x="1271.500" y="518.800">Wood Street</text><path class="m" d="M1308.500 513.300v6.300"/><text class="l" x="1311" y="518.800">(Waltham Forest)</text>
<text class="l" x="1263.700" y="530">Born in the UK <tspan class="v">62.5%</tspan> <tspan class="p">(61.4%)</tspan></text><rect class="bar" x="1263.700" y="532" width="110" height="9.300"/>
<text class="l" x="1263.700" y="548.300">Born outside the UK <tspan class="v">37.5%</tspan> <tspan class="p">(38.6%)</tspan></text><rect class="bar" x="1263.700" y="550.700" width="66" height="9.300"/>
<path class="m" d="M1371.700 532v9.300M1331.600 550.700v9.300"/>
<text class="f" x="1263.700" y="568.700">% of all people</text>
</g>
<g id="c-length-of-residence">
<rect class="tile" x="1386.700" y="495" width="122.600" height="159.300"/>
<text class="h" x="1393" y="506.700">Length of residence in the</text><text class="h" x="1393" y="516">UK</text>
<rect class="bar" x="1393" y="523" width="6.300" height="6.300"/><text class="k" x="1400.800" y="528.400">Wood Street</text><path class="m" d="M1438 523v6.300"/><text class="l" x="1440.300" y="528.400">(Waltham Forest)</text>
<text class="l" x="1393" y="539.700">Born in the UK <tspan class="v">62.6%</tspan> <tspan class="p">(61.4%)</tspan></text><rect class="bar" x="1393" y="541.700" width="110" height="9.300"/>
<text class="l" x="1393" y="558">10 years or more <tspan class="v">24.4%</tspan> <tspan class="p">(23.9%)</tspan></text><rect class="bar" x="1393" y="560" width="42.900" height="9.300"/>
<text class="l" x="1393" y="576.300">5 years or more, but less than 10 years</text><text class="l" x="1393" y="583"><tspan class="v">6.3%</tspan> <tspan class="p">(7.0%)</tspan></text><rect class="bar" x="1393" y="585.300" width="11.100" height="9.300"/>
<text class="l" x="1393" y="601.300">2 years or more, but less than 5 years</text><text class="l" x="1393" y="608"><tspan class="v">4.5%</tspan> <tspan class="p">(4.8%)</tspan></text><rect class="bar" x="1393" y="610.300" width="7.900" height="9.300"/>
<text class="l" x="1393" y="626">Less than 2 years <tspan class="v">2.3%</tspan> <tspan class="p">(2.8%)</tspan></text><rect class="bar" x="1393" y="628.300" width="4" height="9.300"/>
<path class="m" d="M1500.900 541.700v9.300M1435 560v9.300M1405.300 585.300v9.300M1401.400 610.300v9.300M1397.900 628.300v9.300"/>
<text class="f" x="1393" y="646.300">% of all people</text>
</g>
<rect id="c-empty" class="tile" x="1515.700" y="495" width="123" height="159.300"/>
</g>

<g id="connectors">
<path class="arrow" stroke-width="13" d="M181 135C205 85 240 66 263 66 295 66 320 95 346 142"/>
<path d="M370.700 123.300L372.300 190 317.700 151.700z"/>
<path class="arrow" stroke-width="12" d="M759 415C765 340 775 265 896 266"/>
<path d="M900 234.300L956.700 269.300 894.300 294z"/>
</g>

<g id="captions">
<text class="big" x="42.500" y="894" textLength="196" lengthAdjust="spacingAndGlyphs">Downloaded</text>
<text class="big" x="426.500" y="613" textLength="232" lengthAdjust="spacingAndGlyphs">Individual Tiles</text>
<text class="big" x="1042" y="737" textLength="464" lengthAdjust="spacingAndGlyphs">Tiles Rearranged into patterns</text>
<text class="big" x="1042" y="783" textLength="294" lengthAdjust="spacingAndGlyphs">of your own choice</text>
</g>
</svg>
